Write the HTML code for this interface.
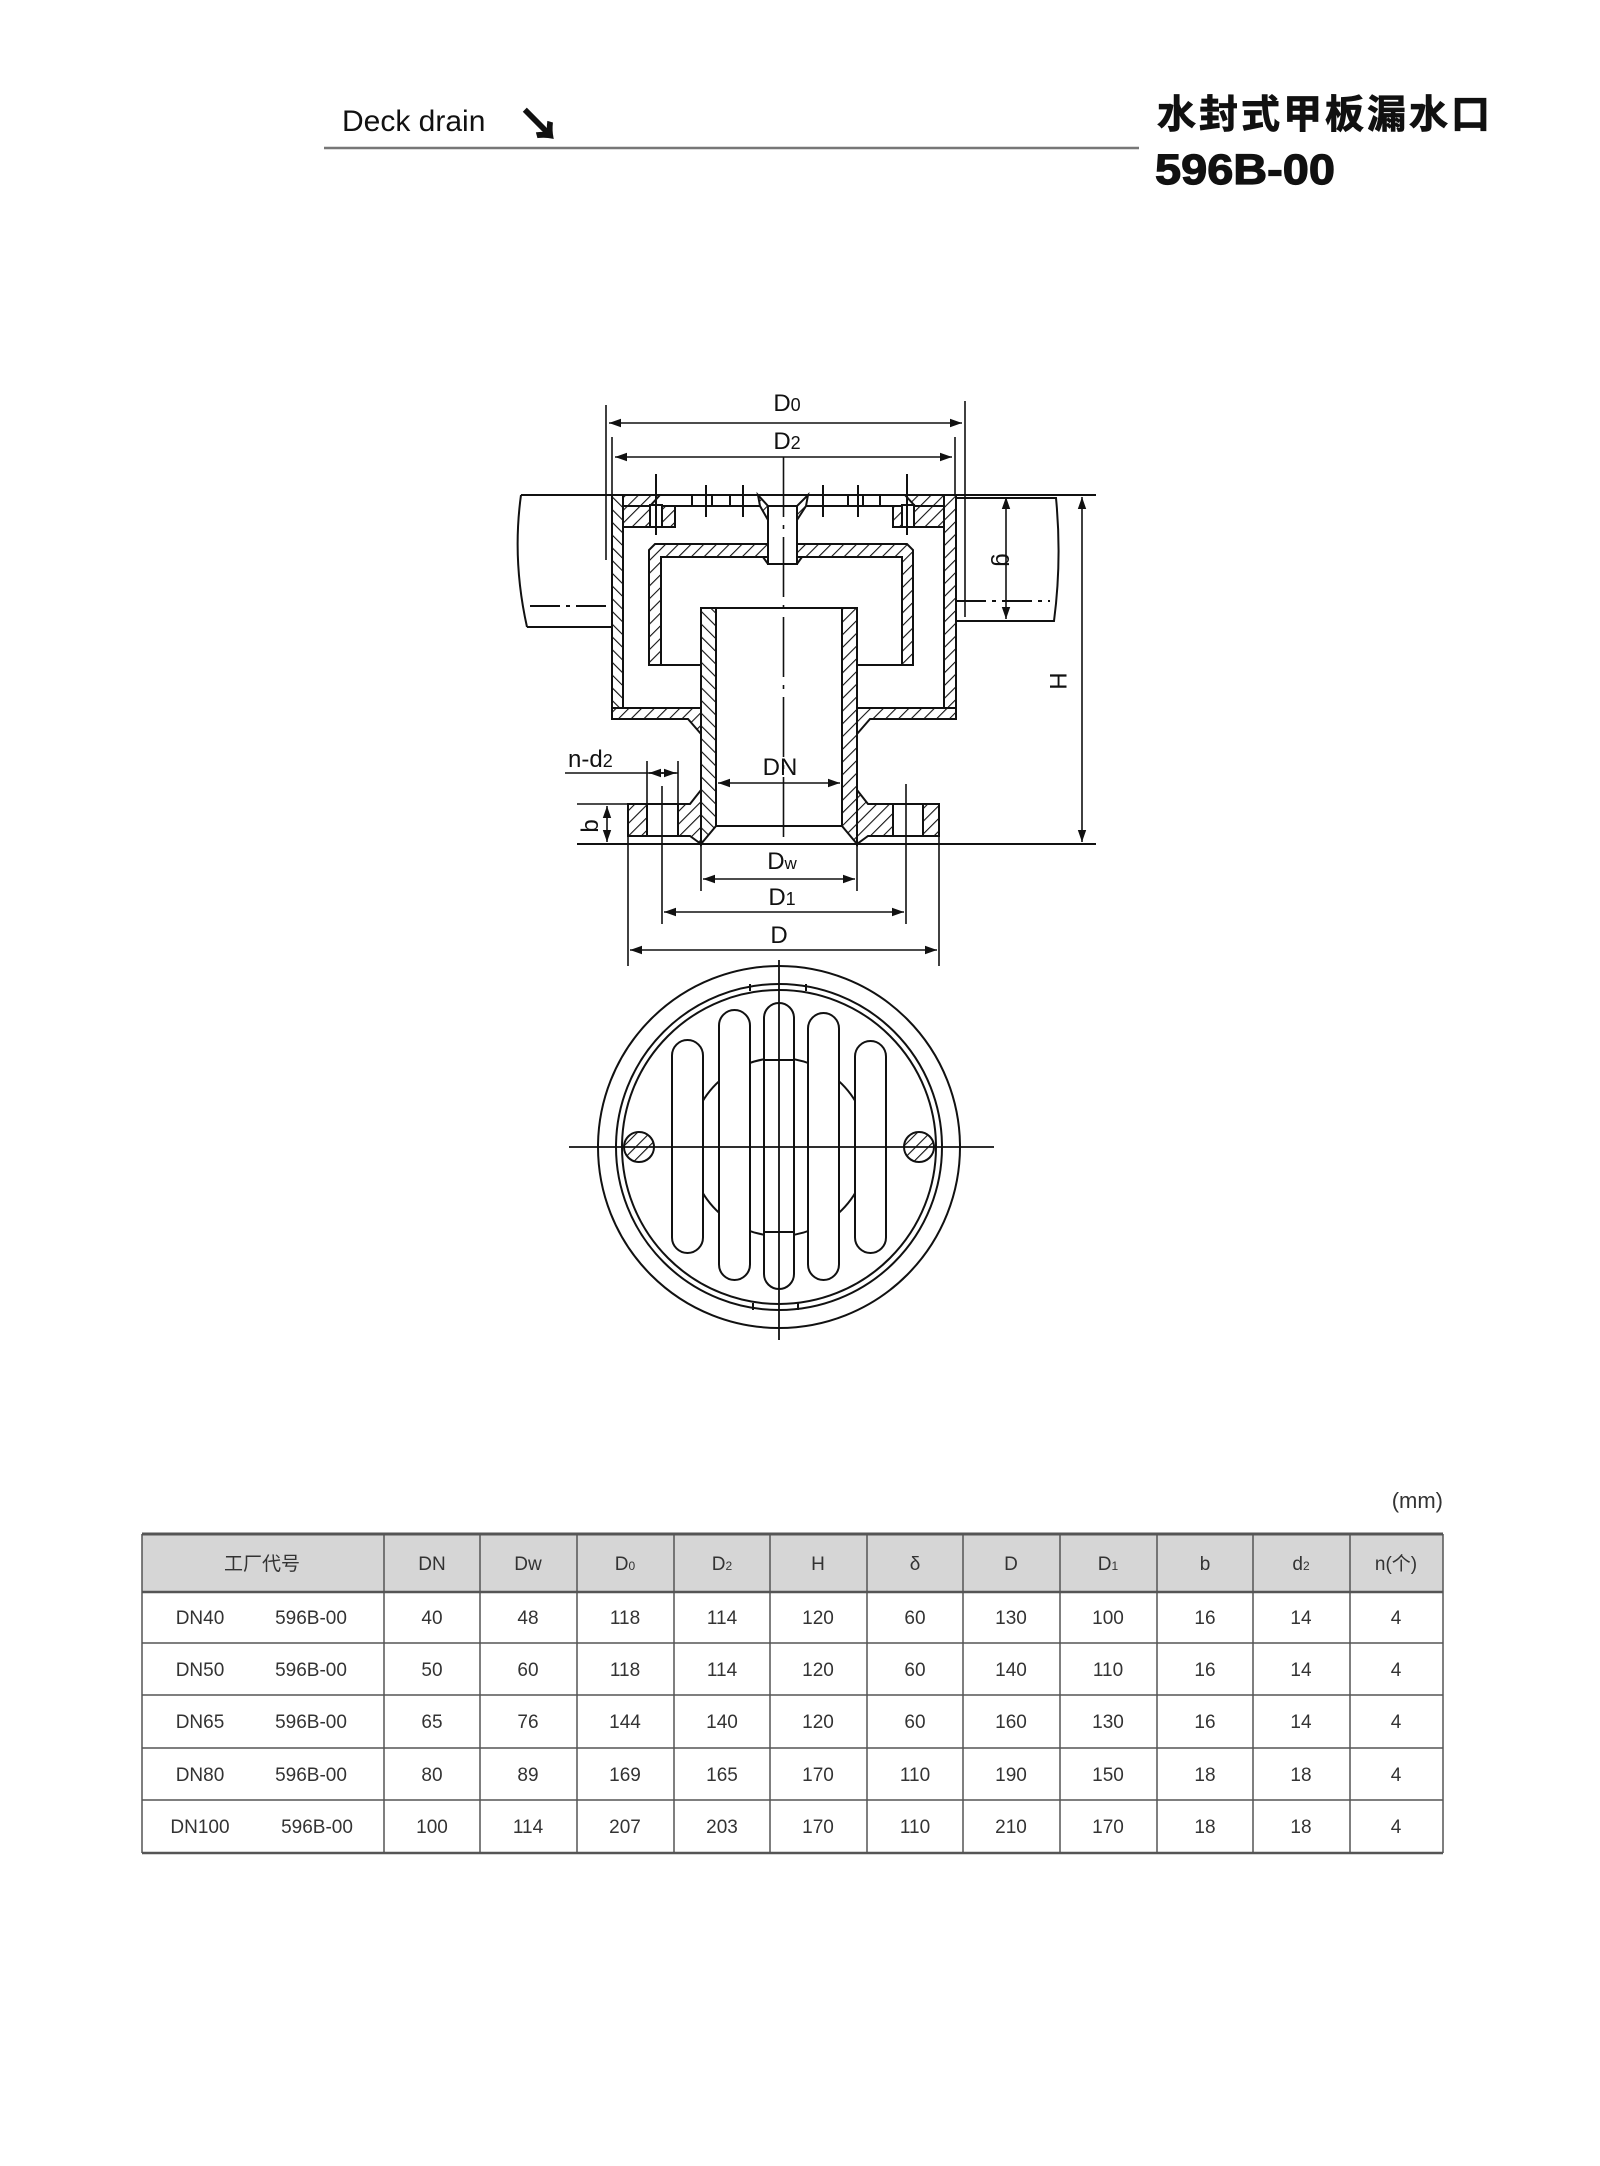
<!DOCTYPE html>
<html><head><meta charset="utf-8"><style>
html,body{margin:0;padding:0;background:#fff}
svg{display:block}
text{font-family:"Liberation Sans","Noto Sans CJK SC",sans-serif}
</style></head><body>
<svg width="1600" height="2166" viewBox="0 0 1600 2166" xmlns="http://www.w3.org/2000/svg">
<defs>
<pattern id="h" patternUnits="userSpaceOnUse" width="9" height="9" patternTransform="rotate(45)">
<rect width="9" height="9" fill="#fff"/><line x1="0" y1="0" x2="0" y2="9" stroke="#111" stroke-width="2.2"/>
</pattern>
<pattern id="h2" patternUnits="userSpaceOnUse" width="9" height="9" patternTransform="rotate(-45)">
<rect width="9" height="9" fill="#fff"/><line x1="0" y1="0" x2="0" y2="9" stroke="#111" stroke-width="2.2"/>
</pattern>
<marker id="a" viewBox="0 0 10 10" refX="10" refY="5" markerWidth="12" markerHeight="12" markerUnits="userSpaceOnUse" orient="auto-start-reverse"><path d="M0,1.5 L10,5 L0,8.5 z" fill="#111"/></marker>
</defs>

<!-- header -->
<text x="342" y="131" font-size="30" fill="#111">Deck drain</text>
<text x="518" y="140" font-size="42" font-weight="bold" fill="#111" stroke="#111" stroke-width="1.5">↘</text>
<line x1="324" y1="148" x2="1139" y2="148" stroke="#777" stroke-width="2.5"/>
<text x="1157" y="128" font-size="39" font-weight="bold" fill="#111" stroke="#111" stroke-width="0.8" letter-spacing="3">水封式甲板漏水口</text>
<text x="1155" y="184" font-size="43" font-weight="bold" fill="#111" stroke="#111" stroke-width="1.2" textLength="180" lengthAdjust="spacingAndGlyphs">596B-00</text>

<g stroke="#111" stroke-width="2" fill="none">
<path d="M521,495 L612,495 M527,627 L612,627 M521,495 Q512,560 527,627"/>
<line x1="530" y1="606" x2="612" y2="606" stroke-dasharray="30,6,4,6"/>
<path d="M956,498 L1056,498 Q1062,560 1054,621 L956,621"/>
<line x1="956" y1="601" x2="1050" y2="601" stroke-dasharray="30,6,4,6"/>
<line x1="521" y1="495" x2="1096" y2="495"/>
<line x1="577" y1="844" x2="1096" y2="844"/>

<rect x="612" y="495" width="11" height="224" fill="url(#h2)"/>
<rect x="944" y="495" width="12" height="224" fill="url(#h)"/>
<path d="M612,708 L701,708 L701,734 L688,719 L612,719 z" fill="url(#h)"/>
<path d="M857,708 L956,708 L956,719 L870,719 L857,734 z" fill="url(#h)"/>

<rect x="623" y="495" width="321" height="11" fill="#fff"/>
<path d="M623,506 L675,506 L675,527 L623,527 z" fill="url(#h)"/>
<path d="M893,506 L944,506 L944,527 L893,527 z" fill="url(#h)"/>
<path d="M623,495 L660,495 L650,506 L623,506 z" fill="url(#h)"/>
<path d="M905,495 L944,495 L944,506 L915,506 z" fill="url(#h)"/>
<rect x="650" y="505" width="12" height="22" fill="#fff"/>
<rect x="902" y="505" width="12" height="22" fill="#fff"/>
<line x1="656" y1="474" x2="656" y2="535"/>
<line x1="907" y1="474" x2="907" y2="535"/>
<line x1="692" y1="495" x2="692" y2="506"/><line x1="712" y1="495" x2="712" y2="506"/>
<line x1="730" y1="495" x2="730" y2="506"/><line x1="863" y1="495" x2="863" y2="506"/>
<line x1="880" y1="495" x2="880" y2="506"/><line x1="848" y1="495" x2="848" y2="506"/>
<line x1="706" y1="485" x2="706" y2="517"/><line x1="743" y1="485" x2="743" y2="517"/>
<line x1="823" y1="485" x2="823" y2="517"/><line x1="858" y1="485" x2="858" y2="517"/>
<path d="M758,495 L768,506 L768,520 L760,506 z" fill="url(#h)"/>
<path d="M808,495 L797,506 L797,520 L806,506 z" fill="url(#h)"/>
<rect x="768" y="506" width="29" height="58" fill="#fff"/>

<path d="M655,544 L768,544 L768,557 L661,557 L661,665 L649,665 L649,550 z" fill="url(#h)"/>
<path d="M797,544 L907,544 L913,550 L913,665 L902,665 L902,557 L797,557 z" fill="url(#h)"/>
<line x1="661" y1="665" x2="701" y2="665"/><line x1="857" y1="665" x2="902" y2="665"/>
<path d="M763,557 L768,564 L797,564 L802,557"/>

<path d="M701,608 L716,608 L716,826 L701,844 z" fill="url(#h2)"/>
<path d="M842,608 L857,608 L857,844 L842,826 z" fill="url(#h)"/>
<line x1="716" y1="608" x2="842" y2="608"/>
<line x1="716" y1="826" x2="842" y2="826"/>

<path d="M628,804 L647,804 L647,836 L628,836 z" fill="url(#h)"/>
<path d="M678,804 L690,804 L701,790 L701,844 L690,836 L678,836 z" fill="url(#h)"/>
<path d="M857,790 L868,804 L893,804 L893,836 L868,836 L857,844 z" fill="url(#h)"/>
<path d="M923,804 L939,804 L939,836 L923,836 z" fill="url(#h)"/>
<line x1="647" y1="804" x2="678" y2="804"/><line x1="647" y1="836" x2="678" y2="836"/>
<line x1="893" y1="804" x2="923" y2="804"/><line x1="893" y1="836" x2="923" y2="836"/>

<line x1="783.5" y1="457" x2="783.5" y2="844" stroke-width="1.6" stroke-dasharray="60,8,4,8"/>

<line x1="606" y1="405" x2="606" y2="560" stroke-width="1.6"/>
<line x1="965" y1="401" x2="965" y2="617" stroke-width="1.6"/>
<line x1="609" y1="423" x2="962" y2="423" stroke-width="1.6" marker-start="url(#a)" marker-end="url(#a)"/>
<line x1="612" y1="437" x2="612" y2="495" stroke-width="1.6"/>
<line x1="955" y1="437" x2="955" y2="495" stroke-width="1.6"/>
<line x1="615" y1="457" x2="952" y2="457" stroke-width="1.6" marker-start="url(#a)" marker-end="url(#a)"/>
<line x1="1006" y1="497" x2="1006" y2="619" stroke-width="1.6" marker-start="url(#a)" marker-end="url(#a)"/>
<line x1="1082" y1="497" x2="1082" y2="842" stroke-width="1.6" marker-start="url(#a)" marker-end="url(#a)"/>
<line x1="577" y1="804" x2="628" y2="804" stroke-width="1.6"/>
<line x1="607" y1="806" x2="607" y2="842" stroke-width="1.6" marker-start="url(#a)" marker-end="url(#a)"/>
<line x1="565" y1="773" x2="678" y2="773" stroke-width="1.6"/>
<line x1="647" y1="761" x2="647" y2="836" stroke-width="1.6"/>
<line x1="678" y1="761" x2="678" y2="804" stroke-width="1.6"/>
<line x1="649" y1="773" x2="663" y2="773" stroke-width="1.6" marker-start="url(#a)"/>
<line x1="662" y1="773" x2="676" y2="773" stroke-width="1.6" marker-end="url(#a)"/>
<line x1="718" y1="783" x2="840" y2="783" stroke-width="1.6" marker-start="url(#a)" marker-end="url(#a)"/>
<line x1="701" y1="844" x2="701" y2="891" stroke-width="1.6"/>
<line x1="857" y1="844" x2="857" y2="891" stroke-width="1.6"/>
<line x1="703" y1="879" x2="855" y2="879" stroke-width="1.6" marker-start="url(#a)" marker-end="url(#a)"/>
<line x1="662" y1="786" x2="662" y2="924" stroke-width="1.6"/>
<line x1="906" y1="784" x2="906" y2="924" stroke-width="1.6"/>
<line x1="664" y1="912" x2="904" y2="912" stroke-width="1.6" marker-start="url(#a)" marker-end="url(#a)"/>
<line x1="628" y1="836" x2="628" y2="966" stroke-width="1.6"/>
<line x1="939" y1="836" x2="939" y2="966" stroke-width="1.6"/>
<line x1="630" y1="950" x2="937" y2="950" stroke-width="1.6" marker-start="url(#a)" marker-end="url(#a)"/>
</g>

<g fill="#111" font-size="24">
<text x="787" y="411" text-anchor="middle">D<tspan font-size="18">0</tspan></text>
<text x="787" y="449" text-anchor="middle">D<tspan font-size="18">2</tspan></text>
<text x="780" y="775" text-anchor="middle">DN</text>
<text x="782" y="869" text-anchor="middle">D<tspan font-size="17">w</tspan></text>
<text x="782" y="905" text-anchor="middle">D<tspan font-size="18">1</tspan></text>
<text x="779" y="943" text-anchor="middle">D</text>
<text x="568" y="767">n-d<tspan font-size="18">2</tspan></text>
<text transform="translate(598,826) rotate(-90)" text-anchor="middle">b</text>
<text transform="translate(996,560) rotate(90)" text-anchor="middle">g</text>
<text transform="translate(1050,681) rotate(90)" text-anchor="middle">H</text>
</g>

<!-- plan view -->
<g stroke="#111" stroke-width="2" fill="none">
<circle cx="779" cy="1147" r="181"/>
<circle cx="779" cy="1147" r="163"/>
<circle cx="779" cy="1147" r="157"/>
<circle cx="779" cy="1147" r="89"/>
<g fill="#fff">
<rect x="672" y="1040" width="31" height="213" rx="15.5"/>
<rect x="719" y="1010" width="31" height="270" rx="15.5"/>
<rect x="764" y="1003" width="30" height="286" rx="15"/>
<rect x="808" y="1013" width="31" height="267" rx="15.5"/>
<rect x="855" y="1041" width="31" height="212" rx="15.5"/>
</g>
<line x1="764" y1="1060" x2="794" y2="1060"/>
<line x1="764" y1="1232" x2="794" y2="1232"/>
<circle cx="639" cy="1147" r="15" fill="url(#h)"/>
<circle cx="919" cy="1147" r="15" fill="url(#h)"/>
<line x1="569" y1="1147" x2="994" y2="1147" stroke-width="1.8"/>
<line x1="779" y1="960" x2="779" y2="1340" stroke-width="1.8"/>
<line x1="750" y1="984" x2="750" y2="991"/><line x1="806" y1="984" x2="806" y2="991"/>
<line x1="753" y1="1303" x2="753" y2="1310"/><line x1="798" y1="1303" x2="798" y2="1310"/>
</g>

<!-- table -->
<text x="1443" y="1508" font-size="22" fill="#333" text-anchor="end">(mm)</text>
<rect x="142" y="1534" width="1301" height="58" fill="#d6d6d6"/>
<g stroke="#555" stroke-width="1.5">
<line x1="142" y1="1534" x2="1443" y2="1534" stroke-width="3"/>
<line x1="142" y1="1592" x2="1443" y2="1592" stroke-width="2.5"/>
<line x1="142" y1="1643" x2="1443" y2="1643"/>
<line x1="142" y1="1695" x2="1443" y2="1695"/>
<line x1="142" y1="1748" x2="1443" y2="1748"/>
<line x1="142" y1="1800" x2="1443" y2="1800"/>
<line x1="142" y1="1853" x2="1443" y2="1853" stroke-width="2.5"/>
<line x1="142" y1="1534" x2="142" y2="1853"/>
<line x1="1443" y1="1534" x2="1443" y2="1853"/>
<line x1="384" y1="1534" x2="384" y2="1853"/><line x1="480" y1="1534" x2="480" y2="1853"/>
<line x1="577" y1="1534" x2="577" y2="1853"/><line x1="674" y1="1534" x2="674" y2="1853"/>
<line x1="770" y1="1534" x2="770" y2="1853"/><line x1="867" y1="1534" x2="867" y2="1853"/>
<line x1="963" y1="1534" x2="963" y2="1853"/><line x1="1060" y1="1534" x2="1060" y2="1853"/>
<line x1="1157" y1="1534" x2="1157" y2="1853"/><line x1="1253" y1="1534" x2="1253" y2="1853"/>
<line x1="1350" y1="1534" x2="1350" y2="1853"/>
</g>
<g font-size="19" fill="#333" text-anchor="middle">
<text x="262" y="1570">工厂代号</text>
<text x="432" y="1570">DN</text><text x="528" y="1570">Dw</text>
<text x="625" y="1570">D<tspan font-size="12">0</tspan></text>
<text x="722" y="1570">D<tspan font-size="12">2</tspan></text>
<text x="818" y="1570">H</text><text x="915" y="1570">δ</text>
<text x="1011" y="1570">D</text>
<text x="1108" y="1570">D<tspan font-size="12">1</tspan></text>
<text x="1205" y="1570">b</text>
<text x="1301" y="1570">d<tspan font-size="12">2</tspan></text>
<text x="1396" y="1570">n(个)</text>
</g>
<g font-size="19" fill="#333" text-anchor="middle">
<g transform="translate(0,1624)">
<text x="200">DN40</text><text x="311">596B-00</text><text x="432">40</text><text x="528">48</text><text x="625">118</text><text x="722">114</text><text x="818">120</text><text x="915">60</text><text x="1011">130</text><text x="1108">100</text><text x="1205">16</text><text x="1301">14</text><text x="1396">4</text></g>
<g transform="translate(0,1676)">
<text x="200">DN50</text><text x="311">596B-00</text><text x="432">50</text><text x="528">60</text><text x="625">118</text><text x="722">114</text><text x="818">120</text><text x="915">60</text><text x="1011">140</text><text x="1108">110</text><text x="1205">16</text><text x="1301">14</text><text x="1396">4</text></g>
<g transform="translate(0,1728)">
<text x="200">DN65</text><text x="311">596B-00</text><text x="432">65</text><text x="528">76</text><text x="625">144</text><text x="722">140</text><text x="818">120</text><text x="915">60</text><text x="1011">160</text><text x="1108">130</text><text x="1205">16</text><text x="1301">14</text><text x="1396">4</text></g>
<g transform="translate(0,1781)">
<text x="200">DN80</text><text x="311">596B-00</text><text x="432">80</text><text x="528">89</text><text x="625">169</text><text x="722">165</text><text x="818">170</text><text x="915">110</text><text x="1011">190</text><text x="1108">150</text><text x="1205">18</text><text x="1301">18</text><text x="1396">4</text></g>
<g transform="translate(0,1833)">
<text x="200">DN100</text><text x="317">596B-00</text><text x="432">100</text><text x="528">114</text><text x="625">207</text><text x="722">203</text><text x="818">170</text><text x="915">110</text><text x="1011">210</text><text x="1108">170</text><text x="1205">18</text><text x="1301">18</text><text x="1396">4</text></g>
</g>
</svg>
</body></html>
